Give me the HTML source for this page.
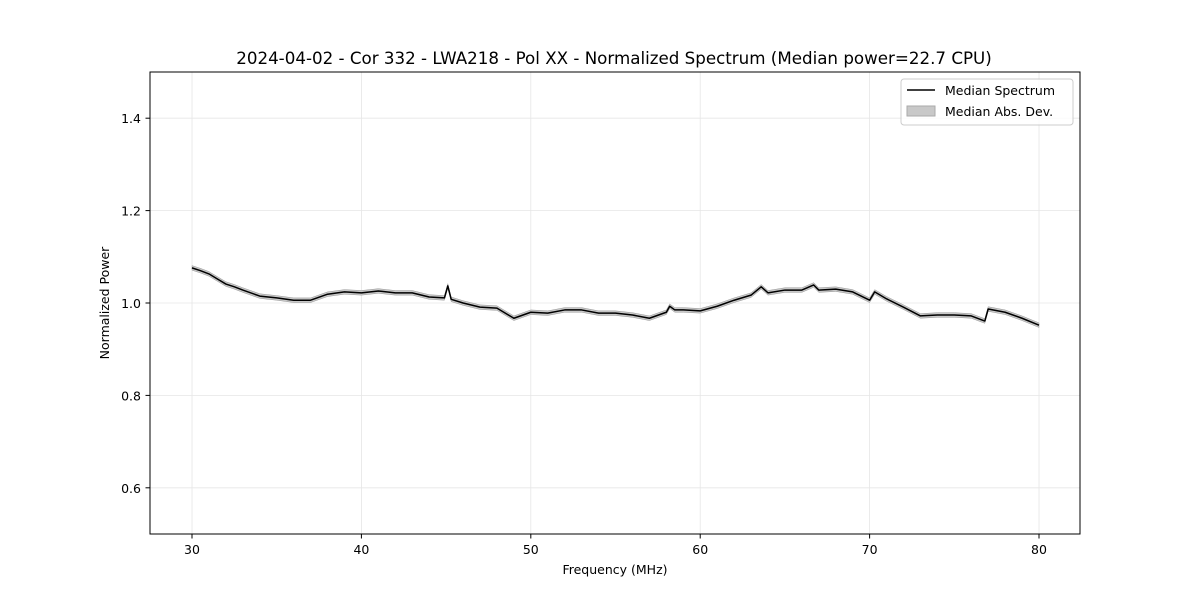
<!DOCTYPE html>
<html><head><meta charset="utf-8"><style>
body{margin:0;background:#fff;}
svg{display:block;font-family:"DejaVu Sans","Liberation Sans",sans-serif;}
</style></head><body>
<svg id="chart" width="1200" height="600">
<rect width="1200" height="600" fill="#fff"/>
<g id="grid"></g>
<g id="band"></g>
<g id="line"></g>
<rect x="150" y="72" width="930" height="462" fill="none" stroke="#000" stroke-width="1"/>
<g id="ticks"></g>
<text x="614" y="64" text-anchor="middle" font-size="16.7">2024-04-02 - Cor 332 - LWA218 - Pol XX - Normalized Spectrum (Median power=22.7 CPU)</text>
<text x="615" y="574" text-anchor="middle" font-size="12.5">Frequency (MHz)</text>
<text x="109" y="303" text-anchor="middle" font-size="12.5" transform="rotate(-90 109 303)">Normalized Power</text>
<g>
<rect x="901" y="79" width="172" height="46" rx="3" fill="#fff" fill-opacity="0.8" stroke="#ccc"/>
<g>
<line x1="907" y1="90" x2="935" y2="90" stroke="#000" stroke-width="1.5"/>
<text x="945" y="95" font-size="12.5">Median Spectrum</text></g>
<g>
<rect x="907" y="106" width="28" height="10" fill="#c8c8c8" stroke="#aaa"/>
<text x="945" y="116" font-size="12.5">Median Abs. Dev.</text></g>
</g>
</svg>
<script>
const freqs=[30,30.5,31,31.5,32,32.5,33,34,35,36,37,38,39,40,41,42,43,44,44.9,45.1,45.3,46,47,48,49,50,51,52,53,54,55,56,57,58,58.2,58.5,59,60,61,62,63,63.6,64,65,66,66.7,67,68,69,70,70.3,71,72,73,74,75,76,76.8,77,78,79,80];
const medianValues=[1.076,1.07,1.063,1.052,1.041,1.035,1.028,1.015,1.011,1.006,1.006,1.019,1.024,1.022,1.026,1.022,1.022,1.013,1.011,1.037,1.008,1.0,0.991,0.989,0.967,0.98,0.978,0.985,0.985,0.978,0.978,0.974,0.967,0.98,0.993,0.985,0.985,0.983,0.993,1.006,1.017,1.035,1.022,1.028,1.028,1.039,1.028,1.03,1.024,1.006,1.024,1.009,0.991,0.972,0.974,0.974,0.972,0.961,0.987,0.98,0.967,0.952];
const madValues=freqs.map(()=>0.005);
const xTicks=[30,40,50,60,70,80];
const yTicks=[0.6,0.8,1.0,1.2,1.4];
const X=v=>150+(v-27.52)/(82.42-27.52)*930;
const Y=v=>534-(v-0.5)/(1.0)*462;
const ns="http://www.w3.org/2000/svg";
function mk(t,a,p){const e=document.createElementNS(ns,t);for(const k in a)e.setAttribute(k,a[k]);p.appendChild(e);return e;}
const grid=document.getElementById('grid'),ticks=document.getElementById('ticks');
xTicks.forEach(t=>{const x=X(t);
const g=mk('line',{x1:x,x2:x,y1:72,y2:534,stroke:'#e6e6e6','stroke-width':0.8},grid);


const tk=mk('line',{x1:x,x2:x,y1:534,y2:538.5,stroke:'#000'},ticks);


const l=mk('text',{x:x,y:554,'text-anchor':'middle','font-size':12.5},ticks);l.textContent=t;

});
yTicks.forEach(t=>{const y=Y(t);
const g=mk('line',{x1:150,x2:1080,y1:y,y2:y,stroke:'#e6e6e6','stroke-width':0.8},grid);


const tk=mk('line',{x1:145.5,x2:150,y1:y,y2:y,stroke:'#000'},ticks);


const l=mk('text',{x:141,y:y+5,'text-anchor':'end','font-size':12.5},ticks);l.textContent=t.toFixed(1);

});
let up=freqs.map((f,i)=>X(f)+','+Y(medianValues[i]+madValues[i]));
let dn=freqs.map((f,i)=>X(f)+','+Y(medianValues[i]-madValues[i])).reverse();
const b=mk('polygon',{points:up.concat(dn).join(' '),fill:'#c8c8c8',stroke:'#999','stroke-width':0.5},document.getElementById('band'));


const ln=mk('polyline',{points:freqs.map((f,i)=>X(f)+','+Y(medianValues[i])).join(' '),fill:'none',stroke:'#000','stroke-width':1.5,'stroke-linejoin':'round'},document.getElementById('line'));


</script>
</body></html>
